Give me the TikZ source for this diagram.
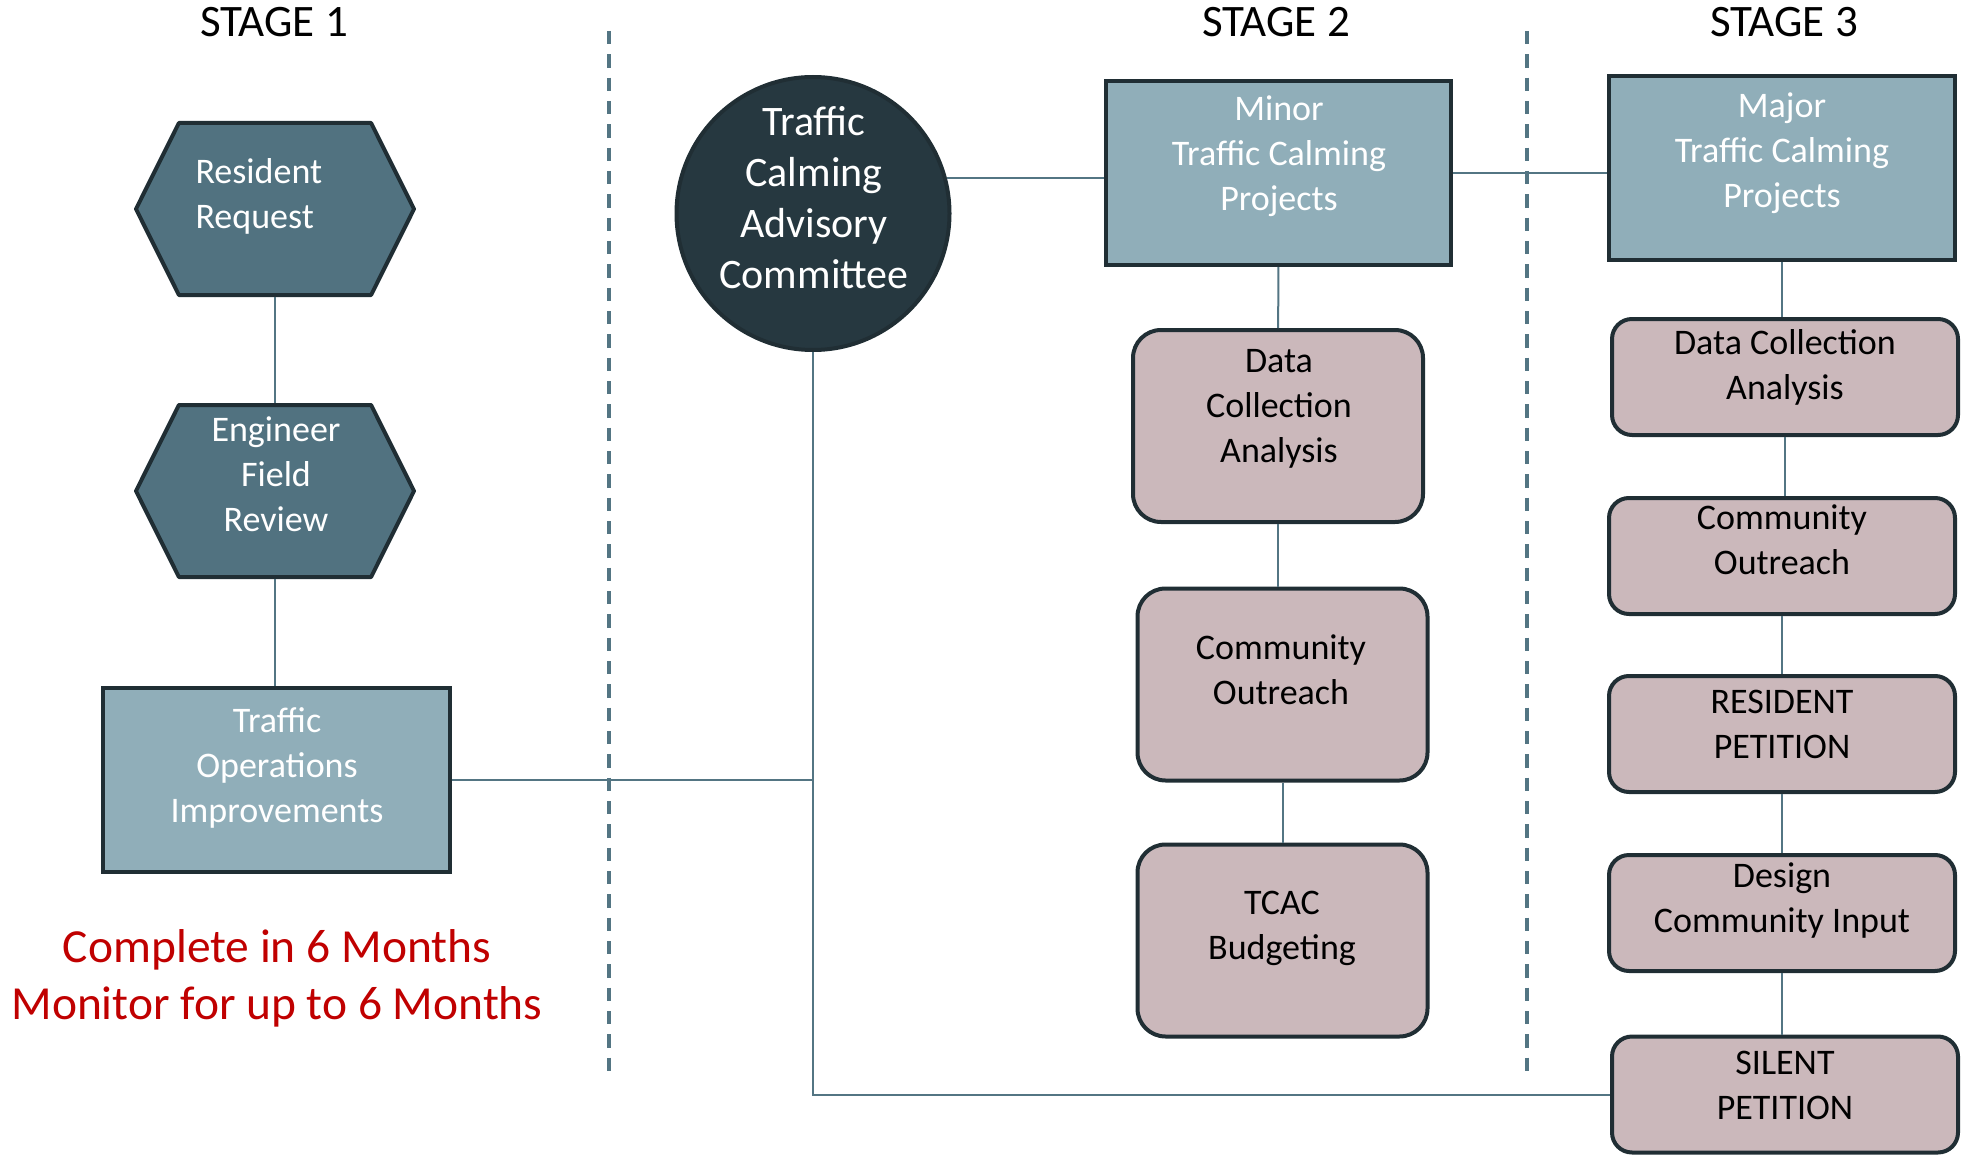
\documentclass[tikz,border=0pt]{standalone}
\usepackage{fontspec}
\setmainfont{Carlito}
\usetikzlibrary{shapes.symbols}
\definecolor{edgecol}{RGB}{32,46,52}
\definecolor{hexfill}{RGB}{81,114,128}
\definecolor{circfill}{RGB}{38,56,64}
\definecolor{rectfill}{RGB}{144,174,185}
\definecolor{boxfill}{RGB}{203,184,187}
\definecolor{linecol}{RGB}{83,117,131}
\definecolor{notered}{RGB}{192,0,0}
\tikzset{every picture/.style={line width=0.75pt}}
\tikzset{
  hexa/.style={signal, signal to=east and west, signal pointer angle=127, draw=edgecol, line width=3pt, line join=round, fill=hexfill, minimum width=208.5pt, minimum height=129pt, inner sep=0pt},
  projbox/.style={rectangle, draw=edgecol, line width=3pt, fill=rectfill, minimum height=138pt, inner sep=0pt},
  stepa/.style={rectangle, rounded corners=21pt, draw=edgecol, line width=3pt, fill=boxfill, minimum width=217.5pt, minimum height=144pt, inner sep=0pt},
  stepb/.style={rectangle, rounded corners=15pt, draw=edgecol, line width=3pt, fill=boxfill, minimum width=259.5pt, minimum height=87pt, inner sep=0pt},
  boxtxt/.style={inner sep=0pt, align=center, font=\fontsize{27}{33.75}\selectfont},
  conn/.style={draw=linecol, line width=1.5pt},
  divider/.style={draw=linecol, line width=2.6pt, dash pattern=on 10pt off 7.5pt}
}
\begin{document}
\begin{tikzpicture}[x=0.75pt,y=0.75pt,yscale=-1,xscale=1]
\path (0,0) rectangle (1964,1159);

%Straight Lines [id:div1]
\draw [divider] (609,31) -- (609,1073);
%Straight Lines [id:div2]
\draw [divider] (1527,31) -- (1527,1073);

%Shape: Hexagon [id:req]
\node (req) [hexa] at (275,209) {};
%Shape: Hexagon [id:eng]
\node (eng) [hexa] at (275,491) {};
%Shape: Rectangle [id:ops]
\node (ops) [projbox, minimum width=260.25pt] at (276.5,780) {};
%Shape: Circle [id:tcac]
\node (tcac) [circle, draw=edgecol, line width=3pt, fill=circfill, minimum size=204.75pt, inner sep=0pt] at (813,213.5) {};
%Shape: Rectangle [id:minor]
\node (minor) [projbox, minimum width=258.75pt] at (1278.5,173) {};
%Shape: Rectangle [id:major]
\node (major) [projbox, minimum width=259.5pt] at (1782,168) {};

%Shape: Rounded Rect [id:dca2]
\node (dca2) [stepa] at (1278,426) {};
%Shape: Rounded Rect [id:out2]
\node (out2) [stepa] at (1282.5,684.5) {};
%Shape: Rounded Rect [id:bud2]
\node (bud2) [stepa] at (1282.5,940.5) {};

%Shape: Rounded Rect [id:dca3]
\node (dca3) [stepb] at (1785,377) {};
%Shape: Rounded Rect [id:out3]
\node (out3) [stepb] at (1782,556) {};
%Shape: Rounded Rect [id:pet3]
\node (pet3) [stepb] at (1782,734) {};
%Shape: Rounded Rect [id:des3]
\node (des3) [stepb] at (1782,913) {};
%Shape: Rounded Rect [id:sil3]
\node (sil3) [stepb] at (1785,1094.5) {};

%Straight Lines [id:l1]
\draw [conn] (req) -- (eng);
\draw [conn] (eng) -- (eng |- ops.north);
\draw [conn] (ops.east) -- (ops.east -| tcac.south);
\draw [conn] (tcac.south) -- (tcac.south |- sil3.west) -- (sil3.west);
\draw [conn] (tcac.15) -- (tcac.15 -| minor.west);
\draw [conn] (minor.east) -- (minor.east -| major.west);
%Straight Lines [id:l2]
\draw [conn] (minor) -- (dca2);
\draw [conn] (dca2) -- (dca2 |- out2.north);
\draw [conn] (out2) -- (out2 |- bud2.north);
%Straight Lines [id:l3]
\draw [conn] (major) -- (major |- dca3.north);
\draw [conn] (dca3) -- (dca3 |- out3.north);
\draw [conn] (out3) -- (out3 |- pet3.north);
\draw [conn] (pet3) -- (pet3 |- des3.north);
\draw [conn] (des3) -- (des3 |- sil3.north);

% Text Node
\draw (274,22.5) node (st1) [inner sep=0pt, font=\fontsize{33.75}{40}\selectfont] {STAGE 1};
% Text Node
\draw (1276,22.5) node (st2) [inner sep=0pt, font=\fontsize{33.75}{40}\selectfont] {STAGE 2};
% Text Node
\draw (1784,22.5) node (st3) [inner sep=0pt, font=\fontsize{33.75}{40}\selectfont] {STAGE 3};
% Text Node
\draw (195,196) node (reqtxt) [boxtxt, anchor=west, align=left, text=white] {Resident\\Request};
% Text Node
\draw (276,474) node (engtxt) [boxtxt, text=white] {Engineer\\Field\\Review};
% Text Node
\draw (277,767.5) node (opstxt) [boxtxt, text=white] {Traffic\\Operations\\Improvements};
% Text Node
\draw (277,978.5) node (note) [inner sep=0pt, align=center, text=notered, font=\fontsize{35.6}{42.75}\selectfont] {Complete in 6 Months\\Monitor for up to 6 Months};
% Text Node
\draw (814,197.5) node (tcactxt) [inner sep=0pt, align=center, text=white, font=\fontsize{31.5}{38.25}\selectfont] {Traffic\\Calming\\Advisory\\Committee};
% Text Node
\draw (1279,156) node (minortxt) [boxtxt, text=white] {Minor\\Traffic Calming\\Projects};
% Text Node
\draw (1782,153) node (majortxt) [boxtxt, text=white] {Major\\Traffic Calming\\Projects};
% Text Node
\draw (1279,408.5) node (dca2txt) [boxtxt] {Data\\Collection\\Analysis};
% Text Node
\draw (1281,669.5) node (out2txt) [boxtxt] {Community\\Outreach};
% Text Node
\draw (1282,928) node (bud2txt) [boxtxt] {TCAC\\Budgeting};
% Text Node
\draw (1785,367) node (dca3txt) [boxtxt] {Data Collection\\Analysis};
% Text Node
\draw (1782,540) node (out3txt) [boxtxt] {Community\\Outreach};
% Text Node
\draw (1782,724) node (pet3txt) [boxtxt] {RESIDENT\\PETITION};
% Text Node
\draw (1782,901) node (des3txt) [boxtxt] {Design\\Community Input};
% Text Node
\draw (1785,1085) node (sil3txt) [boxtxt] {SILENT\\PETITION};

\end{tikzpicture}
\end{document}
